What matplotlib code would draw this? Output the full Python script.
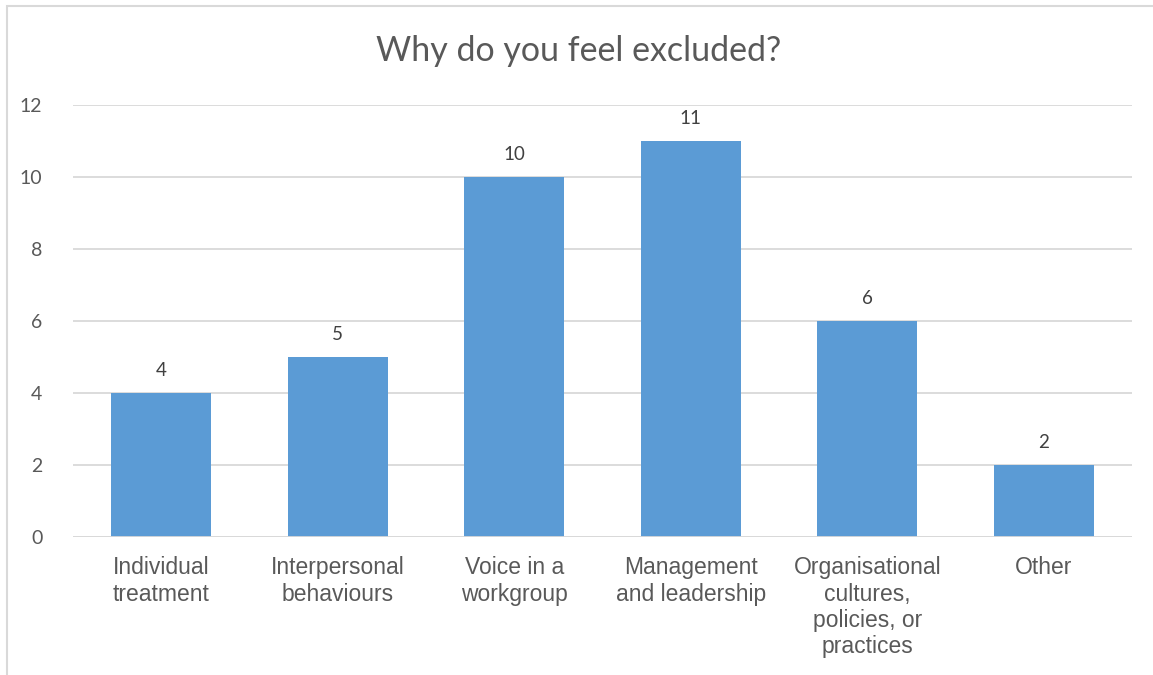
import matplotlib.pyplot as plt
from matplotlib.patches import Rectangle

categories = [
    "Individual\ntreatment",
    "Interpersonal\nbehaviours",
    "Voice in a\nworkgroup",
    "Management\nand leadership",
    "Organisational\ncultures,\npolicies, or\npractices",
    "Other",
]
counts = [4, 5, 10, 11, 6, 2]
y_ticks = [0, 2, 4, 6, 8, 10, 12]

BAR = "#5B9BD5"
GRID = "#D9D9D9"
TEXT = "#595959"

fig = plt.figure(figsize=(11.53, 6.75), dpi=100)
ax = fig.add_axes([0.0633, 0.2044, 0.9185, 0.64])

x = range(len(categories))
ax.bar(x, counts, width=0.567, color=BAR, zorder=3)
for xi, v in zip(x, counts):
    ax.text(xi, v + 0.4, str(v), ha="center", va="bottom",
            fontsize=13.5, color="#404040", family="Lato")

ax.set_xlim(-0.5, len(categories) - 0.5)
ax.set_ylim(0, 12)
ax.set_yticks(y_ticks)
ax.set_yticklabels([str(t) for t in y_ticks], fontsize=14, color=TEXT, family="Lato")
ax.set_xticks(list(x))
ax.set_xticklabels(categories, fontsize=16.5, color=TEXT, family="Liberation Sans",
                   linespacing=1.17, va="top")
ax.tick_params(axis="both", length=0)
ax.tick_params(axis="y", pad=22)
ax.tick_params(axis="x", pad=14)
ax.grid(axis="y", color=GRID, linewidth=1.3, zorder=0)
for s in ax.spines.values():
    s.set_visible(False)
ax.axhline(0, color=GRID, linewidth=1.3, zorder=4)

fig.text(0.502, 0.925, "Why do you feel excluded?", ha="center", va="center",
         fontsize=24.5, color=TEXT, family="Lato")

# chart area frame
fig.patches.append(Rectangle((0.0061, -0.1), 1.2, 1.091, transform=fig.transFigure,
                             fill=False, edgecolor=GRID, linewidth=1.5))

fig.savefig("out.png", dpi=100)
